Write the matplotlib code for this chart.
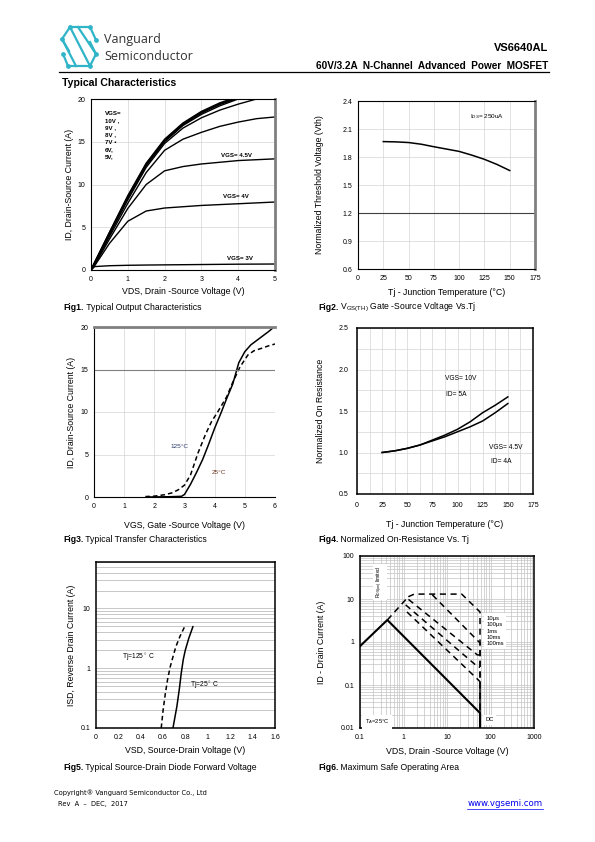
import matplotlib
matplotlib.use('Agg')
import matplotlib.pyplot as plt
from matplotlib.ticker import FixedLocator, NullFormatter, FuncFormatter

plt.rcParams['font.family'] = ['Liberation Sans', 'DejaVu Sans']
plt.rcParams['mathtext.fontset'] = 'custom'
plt.rcParams['mathtext.rm'] = 'Liberation Sans'
plt.rcParams['mathtext.it'] = 'Liberation Sans:italic'
plt.rcParams['mathtext.bf'] = 'Liberation Sans:bold'

W, H = 595, 842

# ---- Fig1: output characteristics
vds1 = [0, 0.1, 0.5, 1.0, 1.5, 2.0, 2.5, 3.0, 3.5, 4.0, 4.5, 5.0]
id_vgs = {
    '10V': [0, 0.9, 4.4, 8.7, 12.5, 15.3, 17.2, 18.55, 19.55, 20.3, 20.9, 21.3],
    '9V':  [0, 0.9, 4.35, 8.6, 12.4, 15.2, 17.1, 18.45, 19.45, 20.2, 20.8, 21.2],
    '8V':  [0, 0.85, 4.3, 8.5, 12.3, 15.1, 17.0, 18.35, 19.35, 20.1, 20.7, 21.2],
    '7V':  [0, 0.85, 4.2, 8.4, 12.2, 15.0, 16.9, 18.2, 19.2, 20.0, 20.6, 21.0],
    '6V':  [0, 0.8, 4.1, 8.2, 12.0, 14.8, 16.6, 17.8, 18.7, 19.4, 20.0, 20.5],
    '5V':  [0, 0.7, 3.9, 7.8, 11.4, 14.0, 15.3, 16.1, 16.8, 17.3, 17.7, 17.9],
    '4.5V': [0, 0.6, 3.6, 7.2, 10.0, 11.6, 12.1, 12.4, 12.6, 12.8, 12.9, 13.0],
    '4V':  [0, 0.5, 3.1, 5.7, 6.9, 7.25, 7.4, 7.55, 7.65, 7.75, 7.85, 7.95],
    '3V':  [0, 0.4, 0.5, 0.55, 0.58, 0.6, 0.62, 0.64, 0.66, 0.68, 0.69, 0.7],
}

# ---- Fig2: threshold voltage vs Tj
tj2 = [25, 37.5, 50, 62.5, 75, 87.5, 100, 112.5, 125, 137.5, 150]
vth = [1.965, 1.962, 1.955, 1.937, 1.91, 1.885, 1.86, 1.82, 1.775, 1.72, 1.655]

# ---- Fig3: transfer characteristics
vgs25 = [1.8, 2.5, 2.9, 3.0, 3.2, 3.4, 3.6, 3.8, 4.0, 4.2, 4.4, 4.6, 4.8, 5.0, 5.2, 5.5, 5.8, 6.0]
id25 = [0, 0.03, 0.08, 0.3, 1.5, 2.9, 4.4, 6.2, 8.1, 9.8, 11.6, 13.3, 15.8, 17.1, 17.9, 18.7, 19.5, 20.1]
vgs125 = [1.7, 2.0, 2.35, 2.6, 2.8, 3.0, 3.2, 3.45, 3.7, 3.9, 4.1, 4.4, 4.6, 4.84, 5.1, 5.3, 5.56, 5.8, 6.0]
id125 = [0.05, 0.1, 0.27, 0.5, 0.86, 1.4, 2.6, 5.2, 7.4, 8.9, 10.0, 11.8, 13.5, 15.3, 16.7, 17.2, 17.5, 17.8, 18.0]

# ---- Fig4: normalized on-resistance
tj4 = [25, 37.5, 50, 62.5, 75, 87.5, 100, 112.5, 125, 137.5, 150]
rds_10v = [1.0, 1.02, 1.05, 1.09, 1.15, 1.21, 1.28, 1.37, 1.48, 1.57, 1.67]
rds_45v = [1.0, 1.02, 1.05, 1.09, 1.14, 1.19, 1.25, 1.31, 1.38, 1.48, 1.59]

# ---- Fig5: diode forward voltage
vsd25 = [0.688, 0.705, 0.723, 0.745, 0.762, 0.78, 0.798, 0.83, 0.866]
isd25 = [0.1, 0.15, 0.23, 0.45, 0.83, 1.4, 2.0, 3.2, 4.95]
vsd125 = [0.583, 0.60, 0.62, 0.64, 0.664, 0.69, 0.714, 0.75, 0.792]
isd125 = [0.1, 0.2, 0.38, 0.65, 1.07, 1.6, 2.3, 3.4, 4.95]

# ---- Fig6: SOA
soa_dc_v = [0.1, 0.425, 57.4, 57.4]
soa_dc_i = [0.8, 3.25, 0.0223, 0.01]
soa_rds_v = [0.425, 1.29]
soa_rds_i = [3.25, 11.3]
soa_pulse = {
    '10us':  ([1.29, 1.77, 21.8, 57.4, 57.4], [11.3, 13.0, 13.0, 5.0, 0.01]),
    '100us': ([4.6, 57.4, 57.4], [12.5, 0.95, 0.01]),
    '1ms':   ([1.3, 50, 57.4], [9.8, 0.5, 0.5]),
    '10ms':  ([1.12, 52, 57.4], [7.3, 0.26, 0.26]),
    '100ms': ([1.2, 57.4, 57.4], [5.0, 0.12, 0.01]),
}

# logo strokes (page pixels)
logo_segs = [
    ((70, 27), (90, 27)), ((70, 27), (62, 39)), ((62, 39), (69, 51)),
    ((90, 27), (96, 40)), ((70, 27), (90, 66)), ((62, 39), (76, 66)),
    ((68, 66), (90, 66)), ((90, 66), (96, 54)), ((96, 54), (90, 42)),
    ((68, 66), (63, 54)), ((78, 27), (96, 54)),
]
logo_dots = [(70, 27), (90, 27), (62, 39), (96, 40), (68, 66), (90, 66), (63, 54), (96, 54)]

fig = plt.figure(figsize=(W / 100, H / 100), dpi=100)


def px(x, y):
    return x / W, 1 - y / H


def make_ax(l, t, r, b):
    return fig.add_axes([l / W, 1 - b / H, (r - l) / W, (b - t) / H])


def style(ax, xlab, ylab, xl, yl, fs=5):
    ax.tick_params(length=0, labelsize=fs, pad=4)
    ax.set_xlabel(xlab, fontsize=6.3)
    ax.set_ylabel(ylab, fontsize=6.3)
    ax.xaxis.set_label_coords(*xl)
    ax.yaxis.set_label_coords(*yl)
    ax.set_axisbelow(True)


def caption(x, y, num, rest):
    t = fig.text(*px(x, y), num, fontsize=6.2, fontweight='bold', va='center')
    plt.annotate(rest, xy=(1, 0.5), xycoords=t, va='center', fontsize=6.2,
                 annotation_clip=False)


GRID = '#d4d4d4'

# ===== Fig1
ax1 = make_ax(91, 99, 275, 270)
for k in ['10V', '9V', '8V', '7V', '6V', '5V', '4.5V', '4V', '3V']:
    ax1.plot(vds1, id_vgs[k], color='k', lw=1.0)
ax1.set_xlim(0, 5)
ax1.set_ylim(0, 20)
ax1.set_xticks(range(6))
ax1.set_yticks([0, 5, 10, 15, 20])
ax1.grid(color=GRID, lw=0.5)
for s in ['left', 'bottom', 'top']:
    ax1.spines[s].set_linewidth(0.8)
ax1.spines['right'].set_color('#808080')
ax1.spines['right'].set_linewidth(2)
style(ax1, 'VDS, Drain -Source Voltage (V)', 'ID, Drain-Source Current (A)',
      (0.5, -0.10), (-0.095, 0.5))
ax1.text(0.38, 18.6, 'VGS=\n10V ,\n9V ,\n8V ,\n7V \u2022\n6V,\n5V,', fontsize=4.4,
         fontweight='bold', va='top', linespacing=1.55)
ax1.text(3.53, 13.45, 'VGS= 4.5V', fontsize=4.4, fontweight='bold', va='center')
ax1.text(3.59, 8.54, 'VGS= 4V', fontsize=4.4, fontweight='bold', va='center')
ax1.text(3.7, 1.4, 'VGS= 3V', fontsize=4.4, fontweight='bold', va='center')
caption(63, 307, 'Fig1.', ' Typical Output Characteristics')

# ===== Fig2
ax2 = make_ax(358, 101, 535, 269)
ax2.plot(tj2, vth, color='k', lw=1.1)
ax2.set_xlim(0, 175)
ax2.set_ylim(0.6, 2.4)
ax2.set_xticks(range(0, 176, 25))
ax2.set_yticks([0.6, 0.9, 1.2, 1.5, 1.8, 2.1, 2.4])
ax2.yaxis.set_major_formatter(FuncFormatter(lambda v, p: f'{v:.1f}'))
ax2.grid(color=GRID, lw=0.5)
ax2.axhline(1.2, color='#404040', lw=0.8)
for s in ['left', 'bottom', 'top']:
    ax2.spines[s].set_linewidth(0.8)
ax2.spines['right'].set_color('#808080')
ax2.spines['right'].set_linewidth(2)
style(ax2, 'Tj - Junction Temperature (\u00b0C)', 'Normalized Threshold Voltage (Vth)',
      (0.5, -0.113), (-0.19, 0.5))
ax2.text(111, 2.23, 'I$_{DS}$= 250uA', fontsize=4.6, va='center')
caption(318, 307, 'Fig2.', ' V$_{\\mathrm{GS(TH)}}$ Gate -Source Voltage Vs.Tj')

# ===== Fig3
ax3 = make_ax(94, 327, 275, 497)
ax3.plot(vgs25, id25, color='k', lw=1.1)
ax3.plot(vgs125, id125, color='k', lw=1.1, ls=(0, (3, 2)))
ax3.set_xlim(0, 6)
ax3.set_ylim(0, 20)
ax3.set_xticks(range(7))
ax3.set_yticks([0, 5, 10, 15, 20])
ax3.grid(color=GRID, lw=0.5)
ax3.axhline(15, color='#808080', lw=0.8)
ax3.spines['right'].set_visible(False)
ax3.spines['top'].set_color('#808080')
ax3.spines['top'].set_linewidth(2)
for s in ['left', 'bottom']:
    ax3.spines[s].set_linewidth(0.8)
style(ax3, 'VGS, Gate -Source Voltage (V)', 'ID, Drain-Source Current (A)',
      (0.5, -0.141), (-0.102, 0.5))
ax3.text(2.82, 5.9, '125\u00b0C', fontsize=4.6, color='#2b3a6b', ha='center', va='center')
ax3.text(4.15, 2.9, '25\u00b0C', fontsize=4.6, color='#6b3318', ha='center', va='center')
caption(63, 540, 'Fig3.', ' Typical Transfer Characteristics')

# ===== Fig4
ax4 = make_ax(357, 328, 533, 494)
ax4.plot(tj4, rds_10v, color='k', lw=1.1)
ax4.plot(tj4, rds_45v, color='k', lw=1.1)
ax4.set_xlim(0, 175)
ax4.set_ylim(0.5, 2.5)
ax4.set_xticks(range(0, 176, 25))
ax4.set_yticks([0.5, 1.0, 1.5, 2.0, 2.5])
ax4.yaxis.set_major_formatter(FuncFormatter(lambda v, p: f'{v:.1f}'))
ax4.xaxis.set_minor_locator(FixedLocator([12.5 + 25 * i for i in range(7)]))
ax4.yaxis.set_minor_locator(FixedLocator([0.75, 1.25, 1.75, 2.25]))
ax4.tick_params(which='minor', length=0)
ax4.grid(which='both', color=GRID, lw=0.5)
for s in ax4.spines.values():
    s.set_linewidth(1.1)
style(ax4, 'Tj - Junction Temperature (\u00b0C)', 'Normalized On Resistance',
      (0.5, -0.157), (-0.179, 0.5))
ax4.tick_params(pad=6)
ax4.text(87.5, 1.89, 'VGS= 10V', fontsize=4.8, va='center')
ax4.text(88, 1.70, 'ID= 5A', fontsize=4.8, va='center')
ax4.text(131, 1.066, 'VGS= 4.5V', fontsize=4.8, va='center')
ax4.text(133, 0.889, 'ID= 4A', fontsize=4.8, va='center')
caption(318, 540, 'Fig4.', ' Normalized On-Resistance Vs. Tj')

# ===== Fig5
ax5 = make_ax(96, 562, 275, 728)
ax5.plot(vsd25, isd25, color='k', lw=1.1)
ax5.plot(vsd125, isd125, color='k', lw=1.1, ls=(0, (3, 2)))
ax5.set_yscale('log')
ax5.set_xlim(0, 1.6)
ax5.set_ylim(0.1, 60)
ax5.set_xticks([0.2 * i for i in range(9)])
ax5.xaxis.set_major_formatter(FuncFormatter(lambda v, p: f'{round(v, 1):g}'))
ax5.set_yticks([0.1, 1, 10])
ax5.yaxis.set_major_formatter(FuncFormatter(lambda v, p: f'{v:g}'))
ax5.yaxis.set_minor_formatter(NullFormatter())
ax5.tick_params(which='minor', length=0)
ax5.grid(axis='y', which='both', color='#b0b0b0', lw=0.5)
for s in ax5.spines.values():
    s.set_linewidth(1.1)
style(ax5, 'VSD, Source-Drain Voltage (V)', 'ISD, Reverse Drain Current (A)',
      (0.5, -0.108), (-0.109, 0.5))
ax5.text(0.23, 1.52, 'Tj=125$^\\circ$ C', fontsize=4.8, va='center')
ax5.text(0.84, 0.53, 'Tj=25$^\\circ$ C', fontsize=4.8, va='center')
caption(63, 767, 'Fig5.', ' Typical Source-Drain Diode Forward Voltage')

# ===== Fig6
ax6 = make_ax(360, 556, 534, 728)
ax6.plot(soa_dc_v, soa_dc_i, color='k', lw=1.5)
ax6.plot(soa_rds_v, soa_rds_i, color='k', lw=1.1, ls=(0, (4, 3)))
for k in ['10us', '100us', '1ms', '10ms', '100ms']:
    v, i = soa_pulse[k]
    ax6.plot(v, i, color='k', lw=1.1, ls=(0, (4, 3)))
ax6.set_xscale('log')
ax6.set_yscale('log')
ax6.set_xlim(0.1, 1000)
ax6.set_ylim(0.01, 100)
ax6.set_xticks([0.1, 1, 10, 100, 1000])
ax6.set_yticks([0.01, 0.1, 1, 10, 100])
ax6.xaxis.set_major_formatter(FuncFormatter(lambda v, p: f'{v:g}'))
ax6.yaxis.set_major_formatter(FuncFormatter(lambda v, p: f'{v:g}'))
ax6.xaxis.set_minor_formatter(NullFormatter())
ax6.yaxis.set_minor_formatter(NullFormatter())
ax6.tick_params(which='minor', length=0)
ax6.grid(which='both', color='#c4c4c4', lw=0.5)
for s in ax6.spines.values():
    s.set_linewidth(1.1)
style(ax6, 'VDS, Drain -Source Voltage (V)', 'ID - Drain Current (A)',
      (0.5, -0.11), (-0.198, 0.5))
wb = dict(boxstyle='square,pad=0.4', fc='white', ec='none')
ax6.text(0.29, 24.8, 'R$_{\\mathrm{DS(on)}}$ limited', fontsize=3.6, rotation=90,
         ha='center', va='center', bbox=wb)
ax6.text(79, 1.8, '10\u03bcs\n100\u03bcs\n1ms\n10ms\n100ms', fontsize=4.2,
         va='center', linespacing=1.35, bbox=wb)
ax6.text(0.246, 0.0138, 'T$_A$=25\u00b0C', fontsize=4.2, ha='center', va='center', bbox=wb)
ax6.text(97, 0.0155, 'DC', fontsize=4.2, ha='center', va='center', bbox=wb)
caption(318, 767, 'Fig6.', ' Maximum Safe Operating Area')

# ===== header
for (a, b) in logo_segs:
    fig.add_artist(plt.Line2D([a[0] / W, b[0] / W], [1 - a[1] / H, 1 - b[1] / H],
                              color='#2fb4c8', lw=1.6, transform=fig.transFigure))
for (x, y) in logo_dots:
    fig.add_artist(plt.Line2D([x / W], [1 - y / H], marker='o', ms=2.4, color='#2fb4c8',
                              transform=fig.transFigure))
fig.text(*px(104, 39), 'Vanguard', fontsize=9, family='Open Sans', color='#333333', va='center')
fig.text(*px(104, 56), 'Semiconductor', fontsize=9, family='Open Sans', color='#333333', va='center')
fig.text(*px(548, 48), 'VS6640AL', fontsize=8, fontweight='bold', ha='right', va='center')
fig.text(*px(548, 66), '60V/3.2A  N-Channel  Advanced  Power  MOSFET', fontsize=7.2,
         fontweight='bold', ha='right', va='center')
fig.add_artist(plt.Line2D([59 / W, 549 / W], [1 - 71.5 / H] * 2, color='k', lw=0.9,
                          transform=fig.transFigure))
fig.text(*px(62, 83), 'Typical Characteristics', fontsize=7.6, fontweight='bold', va='center')

# ===== footer
fig.text(*px(54, 793), 'Copyright\u00ae Vanguard Semiconductor Co., Ltd', fontsize=4.8,
         family='DejaVu Sans', va='center')
fig.text(*px(58, 804), 'Rev  A  \u2013  DEC,  2017', fontsize=4.8, family='DejaVu Sans', va='center')
fig.text(*px(543, 804), 'www.vgsemi.com', fontsize=6.2, family='DejaVu Sans', color='#0000ee',
         ha='right', va='center')
fig.add_artist(plt.Line2D([467 / W, 543 / W], [1 - 809 / H] * 2, color='#0000ee', lw=0.5,
                          transform=fig.transFigure))

fig.savefig('out.png', dpi=100)
